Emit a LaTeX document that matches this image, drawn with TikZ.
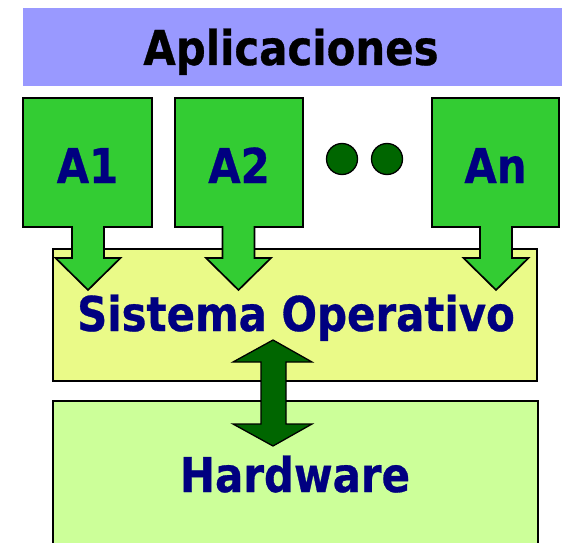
\documentclass[tikz,border=0pt]{standalone}
\usepackage{fontspec}
\newfontfamily\lblfont{DejaVu Sans Condensed}[BoldFeatures={FakeStretch=0.97,FakeBold=0.6}]
\definecolor{navytxt}{HTML}{000080}
\definecolor{bandblue}{HTML}{9999FF}
\definecolor{appgreen}{HTML}{33CC33}
\definecolor{soyellow}{HTML}{EAFA88}
\definecolor{hwgreen}{HTML}{CCFF99}
\definecolor{dkgreen}{HTML}{006600}
\begin{document}
\begin{tikzpicture}[x=1pt,y=-1pt,
  lbl/.style={font=\lblfont\bfseries\fontsize{48}{50}\selectfont, text=navytxt, inner sep=0pt, anchor=base},
  blockarrow/.style={fill=appgreen, draw=black, line width=1.7pt, line join=miter},
  layerbox/.style={draw=black, line width=1.9pt},
  dot/.style={circle, fill=dkgreen, draw=black, line width=1.3pt, minimum size=31pt, inner sep=0pt},
  dblarrow/.style={fill=dkgreen, draw=black, line width=1.3pt, line join=miter}
]
\useasboundingbox (0,0) rectangle (562,543);
\clip (0,0) rectangle (562,543);
% Aplicaciones band
\fill[bandblue] (23,8) rectangle (562,86);
\node[lbl, text=black] (apps) at (291,65) {Aplicaciones};
% layers
\draw[layerbox, fill=soyellow] (53,249) rectangle (537,381);
\draw[layerbox, fill=hwgreen] (53,401) rectangle (538,570);
% application block arrows
\foreach \l/\r/\c/\name/\txt in {23/152/88/a1/A1, 175/303/238.5/a2/A2, 432/559/496/an/An}{
  \draw[blockarrow] (\l,98) -- (\r,98) -- (\r,227) -- (\c+16,227) -- (\c+16,258)
     -- (\c+32.5,258) -- (\c,290) -- (\c-32.5,258) -- (\c-16,258) -- (\c-16,227)
     -- (\l,227) -- cycle;
  \node[lbl] (\name) at ({(\l+\r)/2},183) {\txt};
}
% dots
\node[dot] (d1) at (342,159) {};
\node[dot] (d2) at (387,159) {};
% texts
\node[lbl] (so) at (296,331) {Sistema Operativo};
\node[lbl] (hw) at (295,492) {Hardware};
% double arrow SO <-> HW
\draw[dblarrow] (273,340) -- (312,362) -- (286,362) -- (286,424) -- (312,424)
   -- (273,446) -- (233,424) -- (261,424) -- (261,362) -- (233,362) -- cycle;
\end{tikzpicture}
\end{document}
